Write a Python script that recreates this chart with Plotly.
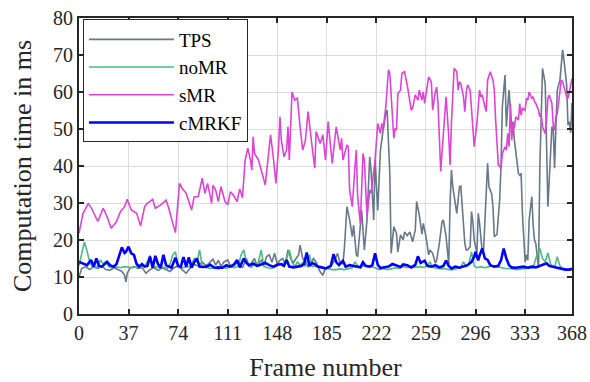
import plotly.graph_objects as go

# ---------------- data ----------------
x_ticks = [0, 37, 74, 111, 148, 185, 222, 259, 296, 333, 368]
y_ticks = [0, 10, 20, 30, 40, 50, 60, 70, 80]

tps_frames = [0, 2, 5, 8, 11, 14, 17, 20, 23, 26, 29, 32, 34, 35, 36, 38, 41, 44, 47, 50,
              53, 56, 59, 62, 65, 68, 71, 74, 77, 80, 83, 86, 89, 92, 95, 98, 100, 102, 104, 106,
              108, 111, 113, 115, 118, 120, 122, 125, 127, 129, 131, 133, 136, 138, 140, 142, 144, 146, 148, 150,
              152, 154, 156, 158, 160, 162, 164, 165, 167, 169, 171, 173, 175, 177, 180, 182, 184, 186, 188, 191,
              193, 195, 197, 198, 200, 202, 204, 205, 207, 208, 210, 211, 213, 215, 217, 218, 220, 221, 223, 225,
              227, 229, 230, 232, 233, 235, 237, 238, 240, 242, 243, 245, 247, 249, 251, 252, 254, 256, 257, 259,
              261, 262, 264, 266, 267, 269, 271, 272, 274, 276, 277, 278, 279, 280, 282, 283, 284, 285, 287, 288,
              289, 290, 292, 293, 294, 295, 297, 298, 299, 301, 302, 304, 305, 306, 308, 309, 310, 312, 313, 314,
              315, 316, 318, 319, 320, 321, 323, 324, 325, 326, 328, 329, 330, 331, 333, 334, 335, 336, 338, 339,
              340, 341, 343, 344, 345, 346, 348, 349, 350, 351, 353, 354, 355, 356, 357, 359, 360, 361, 362, 364,
              365, 366, 367, 368]
tps_ms = [10, 12.3, 12.8, 12, 12.8, 12.3, 13, 12, 11.8, 12.5, 12, 11.5, 10.5, 8.7, 11, 12.4, 12.8, 12.3, 12.6, 11,
          12, 12.5, 11.8, 12.4, 12, 11.5, 12.5, 13, 12, 11, 12.4, 13.4, 13, 14, 13, 14.2, 14.8, 13.2, 14.5, 12.8,
          14, 14.6, 13, 12.8, 14, 13.5, 12.5, 15, 13, 14, 15, 13, 14.5, 13.2, 15.5, 16, 14, 16.4, 13.5, 14.5,
          15, 13.5, 17.3, 15, 13.8, 15, 16, 18.6, 15, 14, 12.8, 13.5, 15, 14, 11.4, 10.5, 12.4, 12.8, 13, 14.6,
          16.4, 13.5, 13.7, 17.3, 29, 25.5, 20.9, 24, 16, 15.5, 23, 28, 17.3, 25.4, 42.5, 38.9, 25.4, 41.6, 28, 44.3,
          49.7, 54.2, 55.1, 38, 16.4, 23.6, 21.8, 16.8, 21.4, 20, 22.2, 21.2, 22.2, 19.5, 22.7, 30.4, 26.8, 21.6, 24.5, 20.9,
          16, 17.3, 16.4, 13.7, 14.6, 19.1, 25, 25.4, 20.9, 13.5, 30, 38.9, 34.4, 32.2, 27.2, 30.8, 34.4, 34.6, 23.6, 19.1,
          17.3, 17.3, 18.2, 27.7, 25, 20, 16.4, 27.2, 24.5, 16.8, 17.3, 30.8, 40.7, 34.4, 32.6, 29, 20.9, 21.5, 26.3, 30.8,
          39.8, 56, 64.6, 50.6, 56, 60.5, 50.2, 52, 47, 44.3, 38, 37.5, 38, 27.2, 14, 16, 14.5, 25.4, 31.7, 24,
          20, 19, 12.5, 39.8, 51.5, 66.4, 62.3, 47, 29, 36.2, 50.6, 50, 39.4, 50.6, 60.5, 63.2, 66.8, 71.4, 68.6, 62,
          51.1, 52, 49, 57]

nomr_frames = [0, 2, 4, 6, 8, 10, 12, 14, 16, 18, 20, 22, 25, 28, 31, 34, 37, 40, 43, 46,
               49, 51, 53, 55, 57, 60, 63, 66, 68, 70, 72, 74, 77, 80, 83, 86, 88, 90, 92, 95,
               98, 101, 104, 107, 110, 113, 116, 119, 121, 123, 125, 127, 129, 131, 133, 136, 138, 141, 144, 147,
               150, 152, 155, 157, 159, 161, 163, 165, 167, 169, 172, 174, 177, 180, 183, 186, 189, 192, 195, 198,
               201, 204, 206, 208, 210, 212, 215, 218, 221, 224, 227, 230, 233, 236, 239, 242, 245, 248, 251, 254,
               257, 260, 262, 264, 267, 270, 273, 276, 279, 282, 285, 287, 289, 291, 293, 295, 297, 300, 303, 306,
               309, 312, 315, 318, 321, 324, 327, 330, 333, 336, 339, 341, 344, 346, 348, 350, 352, 355, 357, 359,
               361, 364, 366, 368]
nomr_ms = [13, 16, 19.5, 17, 14, 12.8, 12.5, 13, 14.6, 13.5, 14.2, 12.8, 12.5, 12.7, 12.5, 12.8, 12.6, 12.5, 12.8, 12.5,
           13, 14.1, 15.8, 12.5, 12.8, 12.5, 12.6, 12.4, 13.5, 16, 16.8, 12.8, 12.5, 12.6, 12.8, 15, 14, 17.3, 12.8, 12.6,
           12.3, 12.5, 12.2, 12.6, 12.4, 12.8, 12.5, 13, 16, 17.3, 14, 12.8, 12.6, 14, 12.8, 17.3, 12.8, 12.5, 12.3, 12.8,
           13.5, 13, 15, 17.3, 14, 12.8, 14, 13.2, 13.8, 13, 16, 12.8, 13, 12.8, 12.5, 12.2, 12, 12, 12.2, 12,
           12.3, 12.5, 14.1, 13, 12.5, 13, 12.8, 12.8, 12.5, 12, 12.3, 12, 12.2, 12.5, 12.3, 12.8, 12.5, 12.8, 12.6, 12.8,
           12.6, 13, 14.1, 12.6, 12.4, 12.2, 12.3, 12, 12, 12.2, 12.6, 14.1, 12.8, 13.5, 16.8, 13, 12.5, 12.8, 12.5, 12.8,
           13, 12.8, 12.5, 12.3, 12.3, 12.2, 12, 12.2, 12.3, 12.4, 12.5, 15, 17.7, 15, 14.1, 16.5, 13.5, 12.6, 15.5, 13,
           12.3, 12.1, 12, 12]

smr_frames = [0, 3, 7, 10, 14, 18, 21, 24, 28, 31, 34, 36, 39, 43, 46, 49, 51, 55, 57, 61,
              65, 67, 70, 72, 75, 77, 80, 84, 86, 89, 92, 94, 96, 99, 100, 102, 104, 106, 109, 111,
              113, 115, 118, 120, 122, 124, 126, 128, 129, 130, 131, 134, 136, 139, 141, 143, 145, 147, 149, 150,
              151, 153, 155, 156, 157, 159, 161, 163, 165, 167, 169, 171, 174, 176, 177, 180, 182, 184, 186, 189,
              192, 195, 196, 197, 200, 201, 202, 204, 206, 207, 208, 210, 212, 213, 215, 217, 218, 221, 223, 225,
              226, 227, 229, 231, 232, 233, 235, 236, 237, 238, 240, 241, 243, 245, 246, 247, 248, 249, 251, 253,
              254, 256, 257, 258, 259, 261, 263, 264, 266, 267, 268, 269, 270, 272, 273, 274, 276, 277, 278, 280,
              282, 283, 284, 285, 287, 288, 289, 290, 292, 293, 294, 295, 297, 298, 299, 300, 301, 303, 304, 305,
              307, 309, 310, 311, 313, 314, 315, 316, 318, 319, 320, 321, 322, 323, 324, 325, 326, 328, 329, 330,
              331, 333, 334, 335, 336, 338, 339, 340, 341, 343, 344, 345, 346, 348, 349, 350, 351, 353, 354, 355,
              356, 357, 359, 360, 361, 362, 364, 365, 366, 368]
smr_ms = [21.8, 27.2, 29.9, 28.1, 25, 28.6, 26.3, 23.2, 25, 27.7, 29, 31, 28.1, 27.2, 23.8, 29, 29.9, 31, 28.6, 29.5,
          30.8, 28.6, 24.5, 22, 35.3, 34, 32.6, 28.1, 31.7, 31.7, 36.7, 32.6, 35.3, 29.9, 34.8, 33.5, 30.4, 34.4, 30.4, 29.5,
          33, 32.3, 30.4, 33.8, 31.4, 41.6, 44.8, 41.6, 38.9, 47.9, 43.4, 41.6, 38.9, 34.9, 41.6, 48.4, 42.5, 35.3, 45.2, 53.3,
          47, 42.5, 44.3, 50.6, 41.6, 60, 57.8, 58.3, 50.6, 44.3, 47, 54.7, 45.2, 39.4, 49.3, 46.1, 48.4, 41.6, 52, 40.7,
          50.6, 44.3, 47.5, 41.6, 45.7, 45.2, 33.5, 29, 39.8, 44.3, 31.7, 24.5, 43.4, 41.6, 26.3, 33.5, 32.6, 41.6, 51.5, 48.8,
          51.5, 49.7, 56, 66, 65, 59.6, 47.5, 50.2, 49.7, 59.6, 60.5, 65, 65.5, 61.9, 59.2, 57.8, 55.1, 55.6, 59.2, 57.8,
          60.5, 57.8, 60, 56.9, 59.6, 64.1, 62.8, 55.1, 60, 61.3, 56.9, 46.1, 38.5, 48.8, 54.2, 58.7, 47.9, 40.3, 51.5, 66.4,
          65.5, 60.5, 62.8, 62.3, 58.7, 54.7, 59.6, 61.9, 60.5, 55.1, 47.9, 45.2, 51.5, 57.4, 60.5, 58.7, 59.2, 56, 54.7, 63.2,
          65.5, 63.2, 60.5, 52.4, 40.3, 39.9, 39.4, 43.4, 45.2, 44.3, 48.8, 45.2, 56.9, 47, 51.5, 50.2, 53.3, 52.4, 56.9, 53.8,
          55.6, 55.1, 58.3, 57.8, 60, 58.3, 58.7, 57.4, 56.9, 55.1, 53.3, 54.2, 50.6, 48.8, 52.4, 58.3, 59.2, 56.9, 51.1, 49.7,
          53.3, 54.2, 60.5, 63.2, 62.8, 61.4, 58.7, 58.3, 60, 63.6]

cmrkf_frames = [0, 2, 4, 6, 9, 11, 13, 15, 17, 19, 21, 23, 26, 28, 30, 32, 34, 35, 37, 39,
                41, 43, 45, 47, 49, 51, 53, 55, 57, 59, 61, 63, 65, 67, 69, 72, 74, 76, 78, 80,
                82, 84, 86, 88, 90, 92, 95, 98, 101, 104, 107, 110, 113, 116, 118, 120, 123, 125, 127, 130,
                133, 136, 139, 142, 145, 148, 151, 153, 155, 157, 160, 163, 166, 168, 170, 172, 174, 176, 178, 181,
                184, 186, 188, 190, 192, 194, 197, 199, 202, 205, 208, 210, 212, 214, 217, 219, 221, 223, 225, 228,
                231, 234, 237, 240, 242, 245, 248, 251, 253, 255, 258, 260, 263, 266, 269, 272, 274, 276, 278, 281,
                284, 287, 290, 293, 295, 296, 298, 299, 301, 303, 305, 307, 310, 313, 315, 317, 319, 321, 323, 326,
                329, 332, 335, 338, 341, 344, 347, 349, 351, 354, 357, 360, 363, 366, 368]
cmrkf_ms = [14.1, 13.8, 13.5, 13.2, 14.6, 12.8, 15, 13, 12.8, 13.5, 14.1, 13.2, 12.8, 13.5, 16, 18, 16.5, 16.8, 18.2, 16.4,
            16, 13.5, 12.8, 13.5, 12.8, 13, 15.5, 12.5, 15.7, 13.5, 12.5, 16, 13.2, 12.8, 12.5, 15.2, 13, 12.8, 15.4, 12.8,
            15.3, 12.5, 14, 15, 12.8, 12.7, 12.8, 13.3, 12.5, 12.6, 12.5, 13.2, 12.8, 13.5, 14.6, 12.6, 15, 13.8, 13.2, 13.6,
            13, 13.4, 13.8, 13.2, 12.8, 13.3, 13.5, 13, 14.6, 12.8, 12.6, 12.8, 13, 13.5, 16.6, 13, 13.8, 13.5, 12.8, 12.6,
            12.3, 12.6, 13, 16.2, 14, 13.2, 14.4, 12.8, 13.2, 13, 12.7, 12.6, 14, 13, 12.8, 13.2, 16.4, 13.3, 12.4, 12.6,
            12.8, 13.5, 13, 12.7, 13.4, 13.2, 12.6, 13.3, 15.6, 13.8, 14.4, 13, 12.8, 13.2, 12.6, 13, 14.4, 13, 12.3, 12.8,
            12.5, 12.8, 13.2, 14.1, 15.5, 16.8, 14.5, 15.8, 17.7, 15, 14.6, 13.2, 12.8, 13, 14.5, 17.7, 15, 13.2, 12.6, 12.5,
            12.6, 12.8, 12.5, 12.8, 12.6, 13, 13.5, 13.7, 13, 12.7, 12.5, 12.2, 12, 12, 12.2]

series = [
    ("TPS", tps_frames, tps_ms, "#66788a", 1.6),
    ("noMR", nomr_frames, nomr_ms, "#4cbb7f", 1.6),
    ("sMR", smr_frames, smr_ms, "#dd44d6", 1.6),
    ("cMRKF", cmrkf_frames, cmrkf_ms, "#0000ff", 2.6),
]

FONT = "Liberation Serif"

fig = go.Figure()
for name, xs, ys, color, w in series:
    fig.add_trace(go.Scatter(x=xs, y=ys, mode="lines", name=name,
                             line=dict(color=color, width=w)))

axis_common = dict(
    showline=True, linewidth=2, linecolor="#262626", mirror="ticks",
    ticks="inside", ticklen=5, tickwidth=2, tickcolor="#262626",
    showgrid=True, gridcolor="#dcdcdc", gridwidth=1, zeroline=False,
    automargin=False,
    tickfont=dict(family=FONT, size=20, color="#262626"),
)

fig.update_layout(
    width=590, height=382,
    margin=dict(l=79, r=18, t=18, b=68),
    paper_bgcolor="white", plot_bgcolor="white",
    xaxis=dict(range=[0, 368], tickvals=x_ticks,
               title=dict(text="Frame number", font=dict(family=FONT, size=26, color="#262626"),
                          standoff=18),
               **axis_common),
    yaxis=dict(range=[0, 80], tickvals=y_ticks,
               title=dict(text="Computation time in ms", font=dict(family=FONT, size=26, color="#262626"),
                          standoff=14),
               **axis_common),
    legend=dict(x=0.008, y=0.995, xanchor="left", yanchor="top",
                bgcolor="white", bordercolor="#262626", borderwidth=1,
                font=dict(family=FONT, size=19, color="black"),
                itemwidth=85, tracegroupgap=0),
    showlegend=True,
)

fig.write_html("out.html")
